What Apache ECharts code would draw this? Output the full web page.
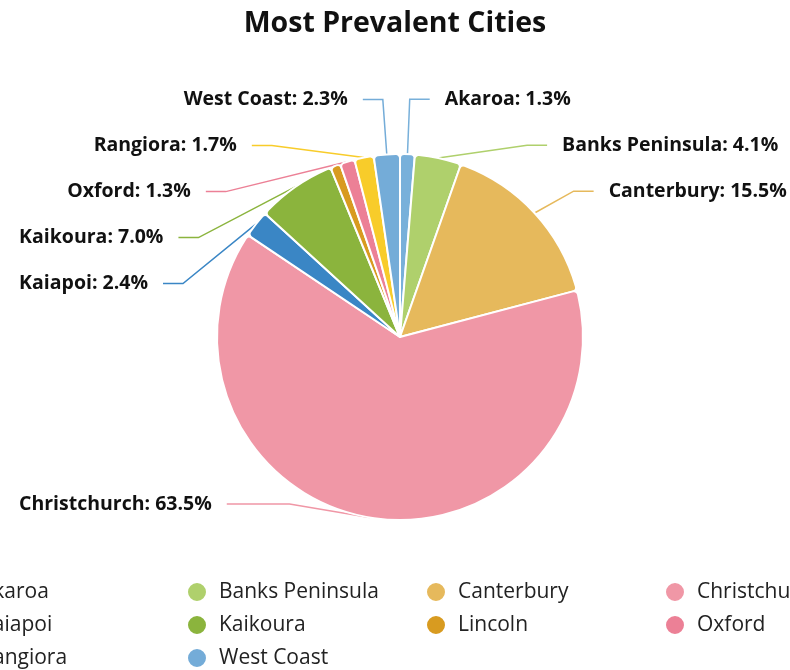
<!DOCTYPE html>
<html>
<head>
<meta charset="utf-8">
<script src="https://cdn.jsdelivr.net/npm/echarts@6/dist/echarts.min.js"></script>
<style>
  html, body { margin: 0; padding: 0; background: #fff; }
  #chart { width: 790px; height: 670px; }
</style>
</head>
<body>
<div id="chart"></div>
<script>
// city share of records
const cities = ['Akaroa', 'Banks Peninsula', 'Canterbury', 'Christchurch', 'Kaiapoi',
  'Kaikoura', 'Lincoln', 'Oxford', 'Rangiora', 'West Coast'];
const shares = [1.3, 4.1, 15.5, 63.5, 2.4, 7.0, 0.9, 1.3, 1.7, 2.3];
const colors = ['#78b0da', '#afd06c', '#e6b95c', '#f097a6', '#3a86c5',
  '#8bb43d', '#d89b20', '#ec8096', '#f8cc2a', '#74acd8'];

function renderPie() {
  const chart = echarts.init(document.getElementById('chart'));
  const maxShare = Math.max(...shares);
  const option = {
    title: {
      text: 'Most Prevalent Cities',
      left: 'center',
      top: 4,
      textStyle: {
        fontFamily: 'Open Sans',
        fontWeight: 'bold',
        fontSize: 28.5,
        color: '#111'
      }
    },
    legend: {
      left: -58,
      top: 576,
      width: 960,
      itemWidth: 20,
      itemHeight: 20,
      itemGap: 11,
      icon: 'circle',
      textStyle: {
        fontFamily: 'Open Sans',
        fontSize: 21,
        color: '#222',
        width: 195,
        lineHeight: 20,
        padding: [0, 0, 0, 7],
        overflow: 'truncate'
      },
      data: cities
    },
    series: [
      {
        type: 'pie',
        top: 0,
        bottom: 143,
        center: [400, 337],
        radius: 183,
        minShowLabelAngle: 4,
        itemStyle: {
          borderColor: '#fff',
          borderWidth: 2,
          borderRadius: 4
        },
        label: {
          formatter: p => p.name + ': ' + p.percent.toFixed(1) + '%',
          fontFamily: 'Open Sans',
          fontWeight: 'bold',
          fontSize: 19.5,
          lineHeight: 44,
          color: '#111',
          overflow: 'none',
          distanceToLabelLine: 15
        },
        labelLine: {
          length: 55,
          length2: 20,
          lineStyle: { width: 1.5 }
        },
        data: cities.map((name, i) => ({
          name: name,
          value: shares[i],
          itemStyle: { color: colors[i] },
          // the big slice's label sits out at the left edge
          label: shares[i] === maxShare ? { alignTo: 'edge', edgeDistance: 19 } : undefined
        }))
      }
    ]
  };
  chart.setOption(option, true);
}
renderPie();
</script>
</body>
</html>
